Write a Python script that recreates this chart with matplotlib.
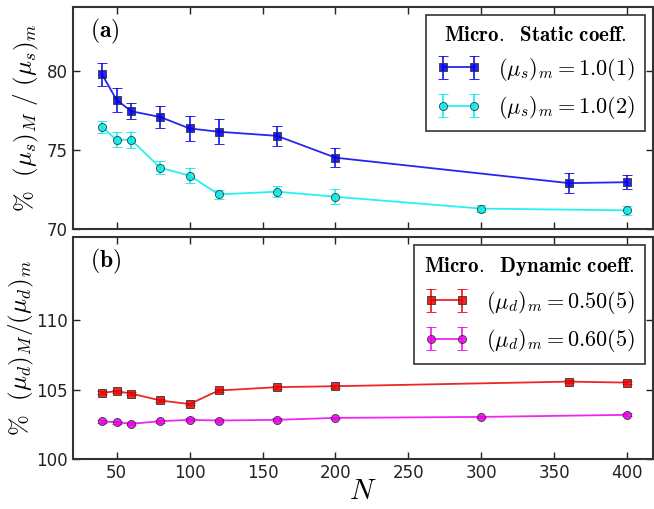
import matplotlib
matplotlib.use('Agg')
import matplotlib.pyplot as plt

plt.rcParams['mathtext.fontset'] = 'cm'
plt.rcParams['font.family'] = 'DejaVu Sans'

# Datos
N_s1 = [40, 50, 60, 80, 100, 120, 160, 200, 360, 400]
mu_s1 = [79.77, 78.15, 77.43, 77.06, 76.34, 76.13, 75.87, 74.49, 72.88, 72.94]
err_s1 = [0.72, 0.74, 0.5, 0.67, 0.79, 0.8, 0.62, 0.62, 0.65, 0.45]

N_s2 = [40, 50, 60, 80, 100, 120, 160, 200, 300, 400]
mu_s2 = [76.43, 75.62, 75.62, 73.85, 73.36, 72.17, 72.34, 72.02, 71.27, 71.16]
err_s2 = [0.4, 0.47, 0.5, 0.42, 0.5, 0.3, 0.36, 0.46, 0.2, 0.3]

N_d1 = [40, 50, 60, 80, 100, 120, 160, 200, 360, 400]
mu_d1 = [104.76, 104.88, 104.71, 104.21, 103.95, 104.93, 105.17, 105.24, 105.57, 105.5]
err_d1 = [0.1, 0.1, 0.1, 0.1, 0.1, 0.1, 0.1, 0.1, 0.1, 0.1]

N_d2 = [40, 50, 60, 80, 100, 120, 160, 200, 300, 400]
mu_d2 = [102.69, 102.64, 102.52, 102.71, 102.81, 102.76, 102.81, 102.95, 103.02, 103.17]
err_d2 = [0.1, 0.1, 0.1, 0.1, 0.1, 0.1, 0.1, 0.1, 0.1, 0.1]

xticks = [50, 100, 150, 200, 250, 300, 350, 400]

fig = plt.figure(figsize=(6.54, 5.09), dpi=100)
ax1 = fig.add_axes([0.1112, 0.5507, 0.8873, 0.435])
ax2 = fig.add_axes([0.1112, 0.0988, 0.8873, 0.435])

def serie(ax, x, y, e, color, marker, label):
    ax.errorbar(x, y, yerr=e, color=color, marker=marker, markersize=5.8,
                markerfacecolor=color, markeredgecolor='#333333', markeredgewidth=0.7,
                linewidth=1.3, elinewidth=1.3, capsize=3.5, capthick=1.2,
                ecolor=color, alpha=0.85, label=label)

serie(ax1, N_s1, mu_s1, err_s1, '#0000ee', 's', r'$(\mu_s)_m = 1.0(1)$')
serie(ax1, N_s2, mu_s2, err_s2, '#00eeee', 'o', r'$(\mu_s)_m = 1.0(2)$')
serie(ax2, N_d1, mu_d1, err_d1, '#ee0000', 's', r'$(\mu_d)_m = 0.50(5)$')
serie(ax2, N_d2, mu_d2, err_d2, '#ee00ee', 'o', r'$(\mu_d)_m = 0.60(5)$')

for ax in (ax1, ax2):
    ax.set_xlim(20, 417.5)
    ax.set_xticks(xticks)
    ax.tick_params(direction='in', top=True, right=True, length=5, width=1,
                   labelsize=12, colors='#222222')
    for s in ax.spines.values():
        s.set_linewidth(1.5)
        s.set_color('#333333')

ax1.set_ylim(70, 84)
ax1.set_yticks([70, 75, 80])
ax1.tick_params(labelbottom=False)
ax2.set_ylim(100, 116)
ax2.set_yticks([100, 105, 110])

ax1.set_ylabel(r'$\%\ \ (\mu_s)_M\ /\ (\mu_s)_m$', fontsize=18, labelpad=4)
ax2.set_ylabel(r'$\%\ \ (\mu_d)_M/(\mu_d)_m$', fontsize=18, labelpad=0)
ax2.set_xlabel(r'$N$', fontsize=21, labelpad=-3)

ax1.text(0.03, 0.89, r'$\mathbf{(a)}$', transform=ax1.transAxes, fontsize=17, va='center')
ax2.text(0.03, 0.89, r'$\mathbf{(b)}$', transform=ax2.transAxes, fontsize=17, va='center')

for ax, titulo in ((ax1, r'$\mathbf{Micro.\ \ Static\ coeff.}$'),
                   (ax2, r'$\mathbf{Micro.\ \ Dynamic\ coeff.}$')):
    leg = ax.legend(loc='upper right', numpoints=2, fontsize=16, title=titulo,
                    title_fontsize=15, fancybox=False, framealpha=1,
                    borderpad=0.45, handlelength=2.0, labelspacing=0.5,
                    borderaxespad=0.35)
    leg.get_frame().set_edgecolor('#333333')
    leg.get_frame().set_linewidth(1.2)

fig.savefig('out.png', dpi=100)
